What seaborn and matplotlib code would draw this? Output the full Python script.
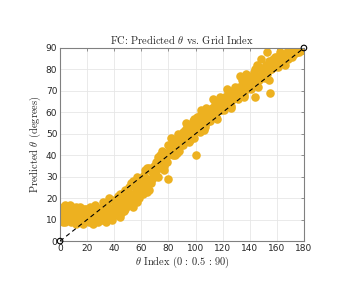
import numpy as np
import pandas as pd
import matplotlib
matplotlib.use('Agg')
import matplotlib.pyplot as plt
import seaborn as sns

# grid index 0..180 (theta = 0 : 0.5 : 90)
grid_index = list(range(0, 181))

# predicted theta, two passes (degrees)
pred_run1 = [
    11, 15, 9, 13, 17, 10, 12, 14, 9, 16,
    12, 15, 8, 14, 11, 16, 10, 13, 9, 15,
    13, 9, 16, 11, 14, 10, 17, 12, 9, 15,
    14, 10, 18, 12, 16, 11, 20, 13, 10, 15,
    16, 12, 19, 14, 22, 13, 17, 20, 15, 23,
    19, 25, 17, 22, 28, 20, 26, 18, 24, 29,
    27, 22, 31, 25, 34, 28, 24, 33, 29, 35,
    32, 37, 30, 36, 40, 34, 38, 33, 41, 37,
    29, 44, 41, 47, 43, 40, 48, 45, 42, 49,
    49, 45, 52, 47, 54, 46, 53, 50, 56, 48,
    40, 53, 57, 51, 59, 54, 52, 60, 55, 58,
    59, 56, 62, 58, 64, 60, 57, 65, 61, 63,
    64, 61, 67, 63, 69, 65, 62, 70, 66, 68,
    69, 66, 72, 68, 75, 70, 67, 76, 71, 73,
    74, 71, 77, 73, 80, 75, 72, 81, 76, 78,
    79, 76, 82, 78, 84, 69, 80, 85, 81, 83,
    84, 81, 86, 83, 87, 85, 82, 87, 85, 88,
    87, 86, 88, 87, 89, 88, 88, 89, 89, 89,
    89,
]
pred_run2 = [
    13, 10, 16, 12, 9, 14, 11, 17, 13, 10,
    10, 13, 16, 9, 12, 14, 11, 8, 15, 12,
    11, 14, 10, 13, 8, 15, 12, 10, 14, 11,
    12, 16, 11, 14, 9, 17, 12, 15, 19, 13,
    13, 18, 15, 21, 11, 17, 19, 14, 24, 16,
    22, 18, 27, 21, 16, 25, 23, 30, 20, 26,
    24, 30, 26, 33, 23, 29, 34, 27, 32, 30,
    35, 31, 39, 34, 37, 42, 36, 35, 39, 40,
    45, 42, 48, 40, 46, 47, 41, 50, 44, 46,
    46, 51, 48, 55, 50, 53, 47, 52, 49, 57,
    54, 58, 52, 56, 61, 57, 55, 53, 62, 56,
    57, 61, 59, 66, 60, 58, 64, 62, 67, 61,
    62, 66, 64, 71, 65, 68, 63, 69, 66, 72,
    67, 71, 69, 77, 70, 73, 68, 78, 72, 74,
    72, 76, 74, 79, 67, 82, 77, 75, 85, 78,
    77, 81, 79, 88, 75, 83, 80, 84, 82, 86,
    86, 83, 88, 85, 84, 87, 86, 85, 89, 87,
    88, 87, 89, 88, 88, 89, 89, 90, 89, 90,
    90,
]

ideal_x = [0, 180]
ideal_y = [0, 90]

df = pd.DataFrame({
    'index': grid_index * 2,
    'pred': pred_run1 + pred_run2,
})

sns.set_style('white')
plt.rcParams['mathtext.fontset'] = 'cm'
plt.rcParams['font.family'] = ['DejaVu Sans']
serif = 'cmr10'

fig = plt.figure(figsize=(3.64, 2.98), dpi=100)
ax = fig.add_axes([0.165, 0.191, 0.67, 0.648])

sns.scatterplot(data=df, x='index', y='pred', ax=ax, color='#EDB120',
                s=38, linewidth=0, alpha=1.0, legend=False, zorder=2)
sns.lineplot(x=ideal_x, y=ideal_y, ax=ax, color='black', linestyle=(0, (4, 3)),
             linewidth=0.8, zorder=3)
ax.scatter(ideal_x, ideal_y, s=16, facecolors='none', edgecolors='black',
           linewidths=0.8, zorder=4, clip_on=False)

ax.set_xlim(0, 180)
ax.set_ylim(0, 90)
ax.set_xticks(np.arange(0, 181, 20))
ax.set_yticks(np.arange(0, 91, 10))
ax.grid(True, color='#e6e6e6', linewidth=0.6, zorder=0)
ax.set_axisbelow(True)
for sp in ax.spines.values():
    sp.set_color('#808080')
    sp.set_linewidth(0.8)
ax.tick_params(direction='in', length=2.5, width=0.6, colors='#808080',
               labelcolor='#262626', labelsize=6.5, top=True, right=True, pad=2)

ax.set_title(r'FC: Predicted $\theta$ vs. Grid Index', fontsize=7.5, pad=3,
             family=serif)
ax.set_xlabel(r'$\theta$ Index (0 : 0.5 : 90)', fontsize=7.5, labelpad=1,
              family=serif)
ax.set_ylabel(r'Predicted $\theta$ (degrees)', fontsize=7.5, labelpad=2,
              family=serif)

fig.savefig('out.png', dpi=100)
